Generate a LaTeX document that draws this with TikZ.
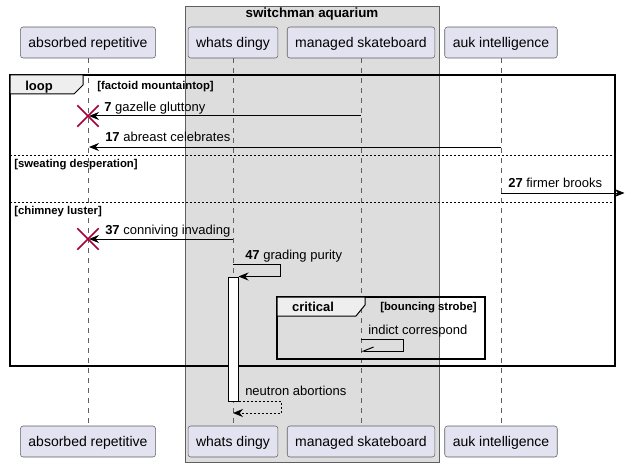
\documentclass[tikz,border=0pt]{standalone}
\usepackage{fontspec}
\setmainfont{Liberation Sans}
\usetikzlibrary{arrows.meta,shapes.misc}

\definecolor{partfill}{RGB}{226,226,240}
\definecolor{partline}{RGB}{95,95,95}
\definecolor{groupfill}{RGB}{221,221,221}
\definecolor{tabfill}{RGB}{238,238,238}
\definecolor{killred}{RGB}{168,0,54}

\tikzset{
  partbox/.style={draw=partline, fill=partfill, rounded corners=2pt, minimum height=23.25pt, inner xsep=6pt, text height=8.5pt, text depth=0.5pt, font=\fontsize{10.5}{12}\selectfont},
  lifeline/.style={draw=partline, dash pattern=on 3.75pt off 3.75pt, line width=0.5pt},
  msg/.style={line width=0.75pt, -{Stealth[length=7.5pt,width=6pt,inset=2.5pt]}},
  halfmsg/.style={line width=0.75pt, -{Straight Barb[harpoon,swap,length=7.5pt,width=6pt]}},
  msglabel/.style={anchor=base west, inner sep=0pt, font=\fontsize{9.75}{11}\selectfont},
  framelabel/.style={anchor=base west, inner sep=0pt, font=\bfseries\fontsize{8.5}{10}\selectfont},
  tablabel/.style={anchor=base, inner sep=0pt, font=\bfseries\fontsize{9.75}{11}\selectfont},
  killmark/.style={cross out, draw=killred, line width=1.1pt, minimum size=15pt, inner sep=0pt},
  sepline/.style={dash pattern=on 1.5pt off 1.5pt, line width=0.75pt},
  framebox/.style={line width=1.5pt},
  tabbox/.style={fill=tabfill, line width=0.75pt},
}

\begin{document}
\begin{tikzpicture}[x=0.75pt,y=0.75pt,yscale=-1,xscale=1]
\useasboundingbox (0,0) rectangle (625,467);
\fill[white] (0,0) rectangle (625,467);

%Group box
\draw [draw=partline, fill=groupfill, line width=0.75pt] (185,6.5) rectangle (439,462.5);
\node [tablabel, font=\bfseries\fontsize{10}{12}\selectfont] (grpTitle) at (312,17.5) {switchman aquarium};

%Participants (top)
\node [partbox] (absTop) at (88,42.5) {absorbed repetitive};
\node [partbox] (whaTop) at (233,42.5) {whats dingy};
\node [partbox] (manTop) at (361,42.5) {managed skateboard};
\node [partbox] (aukTop) at (501,42.5) {auk intelligence};
%Participants (bottom)
\node [partbox] (absBot) at (88,441.5) {absorbed repetitive};
\node [partbox] (whaBot) at (233,441.5) {whats dingy};
\node [partbox] (manBot) at (361,441.5) {managed skateboard};
\node [partbox] (aukBot) at (501,441.5) {auk intelligence};

%Lifelines
\draw [lifeline] (absTop) -- (absBot);
\draw [lifeline] (whaTop) -- (whaBot);
\draw [lifeline] (manTop) -- (manBot);
\draw [lifeline] (aukTop) -- (aukBot);

%Loop frame
\draw [framebox] (10,75) rectangle (615,366);
\draw [tabbox] (10,75) -- (83,75) -- (83,85) -- (74,94) -- (10,94) -- cycle;
\node [tablabel] (loopTab) at (39,90) {loop};
\node [framelabel] (loopCond) at (97,89.5) {[factoid mountaintop]};
%Separators
\draw [sepline] (10,155) -- (615,155);
\node [framelabel] (sepOne) at (14,167) {[sweating desperation]};
\draw [sepline] (10,202) -- (615,202);
\node [framelabel] (sepTwo) at (14,214) {[chimney luster]};

%Message 7
\coordinate (m7a) at (361,116);
\coordinate (m7b) at (89,116);
\draw [msg] (m7a) -- (m7b);
\node [killmark] (kill7) at (88,116) {};
\node [msglabel] (lab7) at (104,111.5) {\textbf{7} gazelle gluttony};

%Message 17
\coordinate (m17a) at (501,147);
\coordinate (m17b) at (89,147);
\draw [msg] (m17a) -- (m17b);
\node [msglabel] (lab17) at (105,141.5) {\textbf{17} abreast celebrates};

%Message 27
\coordinate (m27a) at (501,193);
\coordinate (m27b) at (624.5,193);
\draw [msg] (m27a) -- (m27b);
\node [msglabel] (lab27) at (508,187) {\textbf{27} firmer brooks};

%Message 37
\coordinate (m37a) at (233,239);
\coordinate (m37b) at (89,239);
\draw [msg] (m37a) -- (m37b);
\node [killmark] (kill37) at (88,239) {};
\node [msglabel] (lab37) at (105,234.5) {\textbf{37} conniving invading};

%Activation
\node [draw, fill=white, line width=0.75pt, minimum width=7.5pt, minimum height=93pt, inner sep=0pt] (act) at (233,339) {};

%Message 47 (self)
\coordinate (m47a) at (233,264);
\draw [msg] (m47a) -- ++(47,0) |- (act.north east);
\node [msglabel] (lab47) at (245,259.5) {\textbf{47} grading purity};

%Critical frame
\draw [framebox] (277,297) rectangle (485,359);
\draw [tabbox] (277,297) -- (365,297) -- (365,305) -- (356,316) -- (277,316) -- cycle;
\node [tablabel] (critTab) at (313,311) {critical};
\node [framelabel] (critCond) at (380,310.5) {[bouncing strobe]};

%Indict correspond (self)
\coordinate (icA) at (361,339);
\coordinate (icB) at (361,351);
\draw [halfmsg] (icA) -- ++(42,0) |- (icB);
\node [msglabel] (labIc) at (368,334) {indict correspond};

%Return
\coordinate (retB) at (233,413);
\draw [msg, dash pattern=on 1.5pt off 1.5pt] (act.south east) -- ++(43,0) |- (retB);
\node [msglabel] (labRet) at (245,395) {neutron abortions};

\end{tikzpicture}
\end{document}
